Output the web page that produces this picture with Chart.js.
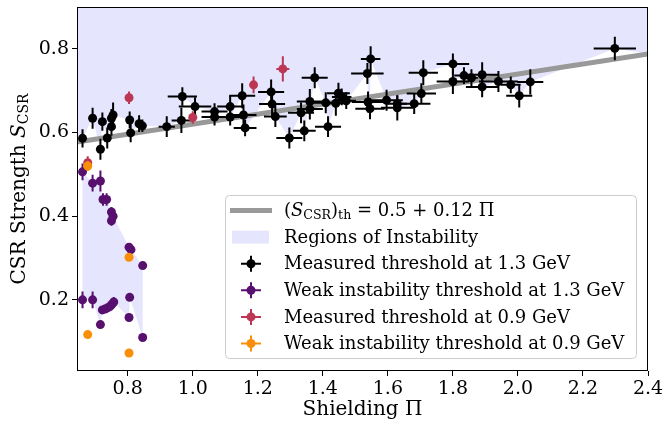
<!DOCTYPE html>
<html>
<head>
<meta charset="utf-8">
<script src="https://cdn.jsdelivr.net/npm/chart.js@4.4.0/dist/chart.umd.min.js"></script>
<style>
  html, body { margin: 0; padding: 0; background: #fff; }
  #wrap { width: 667px; height: 422px; }
</style>
</head>
<body>
<div id="wrap"><canvas id="csrChart" width="667" height="422"></canvas></div>
<script>
// measured threshold at 1.3 GeV
const meas13X = [0.661, 0.692, 0.716, 0.722, 0.737, 0.750, 0.755, 0.750, 0.806, 0.809, 0.835, 0.845,
  0.920, 0.965, 0.968, 1.007, 1.067, 1.067, 1.115, 1.115, 1.152, 1.156, 1.161, 1.241, 1.244, 1.254,
  1.297, 1.333, 1.343, 1.360, 1.360, 1.375, 1.409, 1.416, 1.440, 1.448, 1.458, 1.472, 1.537, 1.547,
  1.539, 1.545, 1.596, 1.629, 1.629, 1.681, 1.703, 1.709, 1.800, 1.800, 1.834, 1.857, 1.890, 1.890,
  1.940, 1.978, 2.004, 2.038, 2.298];
const meas13Y = [0.586, 0.634, 0.560, 0.626, 0.587, 0.634, 0.642, 0.614, 0.630, 0.599, 0.621, 0.616,
  0.614, 0.629, 0.686, 0.662, 0.650, 0.637, 0.662, 0.637, 0.688, 0.642, 0.611, 0.697, 0.668, 0.638,
  0.587, 0.647, 0.604, 0.674, 0.656, 0.731, 0.671, 0.614, 0.670, 0.694, 0.685, 0.676, 0.741, 0.776,
  0.673, 0.657, 0.677, 0.669, 0.659, 0.669, 0.693, 0.743, 0.764, 0.722, 0.736, 0.731, 0.738, 0.709,
  0.722, 0.714, 0.688, 0.721, 0.801];
const meas13XErr = [0.005, 0.005, 0.005, 0.005, 0.005, 0.005, 0.005, 0.005, 0.005, 0.005, 0.005, 0.005,
  0.025, 0.030, 0.045, 0.050, 0.040, 0.040, 0.040, 0.040, 0.040, 0.040, 0.035, 0.040, 0.040, 0.035,
  0.040, 0.040, 0.035, 0.040, 0.040, 0.040, 0.040, 0.040, 0.040, 0.035, 0.030, 0.030, 0.050, 0.030,
  0.050, 0.045, 0.050, 0.030, 0.050, 0.050, 0.045, 0.045, 0.050, 0.050, 0.030, 0.020, 0.050, 0.050,
  0.060, 0.030, 0.040, 0.040, 0.065];
const meas13YErr = [0.022, 0.025, 0.025, 0.022, 0.025, 0.022, 0.030, 0.022, 0.020, 0.022, 0.020, 0.015,
  0.025, 0.030, 0.022, 0.022, 0.020, 0.020, 0.025, 0.020, 0.030, 0.025, 0.020, 0.030, 0.030, 0.025,
  0.025, 0.025, 0.025, 0.030, 0.025, 0.025, 0.025, 0.025, 0.030, 0.025, 0.020, 0.020, 0.025, 0.030,
  0.025, 0.025, 0.025, 0.020, 0.030, 0.025, 0.025, 0.030, 0.025, 0.030, 0.020, 0.020, 0.030, 0.025,
  0.025, 0.020, 0.028, 0.030, 0.028];

// weak instability threshold at 1.3 GeV
const weak13X = [0.661, 0.692, 0.716, 0.724, 0.735, 0.750, 0.750, 0.755, 0.804, 0.810, 0.846,
  0.661, 0.692, 0.716, 0.722, 0.730, 0.738, 0.745, 0.751, 0.757, 0.804, 0.806, 0.846];
const weak13Y = [0.506, 0.479, 0.484, 0.440, 0.440, 0.410, 0.389, 0.400, 0.326, 0.320, 0.282,
  0.200, 0.200, 0.141, 0.176, 0.178, 0.181, 0.184, 0.189, 0.195, 0.158, 0.206, 0.110];
const weak13XErr = [0.004, 0.004, 0.004, 0.004, 0.004, 0.004, 0.004, 0.004, 0.003, 0.003, 0.003,
  0.004, 0.004, 0.003, 0.003, 0.003, 0.003, 0.003, 0.003, 0.003, 0.003, 0.003, 0.003];
const weak13YErr = [0.020, 0.020, 0.025, 0.015, 0.015, 0.012, 0.012, 0.010, 0.008, 0.008, 0.005,
  0.020, 0.020, 0.005, 0.005, 0.005, 0.005, 0.005, 0.005, 0.012, 0.005, 0.008, 0.005];

// measured threshold at 0.9 GeV
const meas09X = [0.677, 0.804, 1.000, 1.187, 1.277];
const meas09Y = [0.528, 0.683, 0.636, 0.714, 0.752];
const meas09XErr = [0.004, 0.004, 0.008, 0.010, 0.020];
const meas09YErr = [0.015, 0.015, 0.015, 0.020, 0.030];

// weak instability threshold at 0.9 GeV
const weak09X = [0.677, 0.677, 0.804, 0.804];
const weak09Y = [0.520, 0.117, 0.302, 0.073];
const weak09XErr = [0.004, 0.004, 0.004, 0.004];
const weak09YErr = [0.012, 0.008, 0.008, 0.006];

// threshold model from the legend
const thIntercept = 0.5;
const thSlope = 0.12;

const xMin = 0.644, xMax = 2.4, yMin = 0.03, yMax = 0.9;
const xTicks = [0.8, 1.0, 1.2, 1.4, 1.6, 1.8, 2.0, 2.2, 2.4];
const yTicks = [0.2, 0.4, 0.6, 0.8];

const serif = "'DejaVu Serif', serif";
const cBlack = '#000000', cPurple = '#57106e', cRed = '#bc3754', cOrange = '#f98e09';
const cFill = '#e5e5fd', cLine = '#999999';

const toPoints = (xs, ys) => xs.map((x, i) => ({ x: x, y: ys[i] }));
const thAt = x => thIntercept + thSlope * x;

// instability above the measured thresholds
const upperEdge = [{ x: xMin, y: thAt(xMin) }]
  .concat(toPoints(meas13X, meas13Y).sort((a, b) => a.x - b.x))
  .concat([{ x: xMax, y: thAt(xMax) }]);

// weak instability band between the two branches
const weakPts = toPoints(weak13X, weak13Y);
const weakHi = weakPts.filter(p => p.y > 0.25).sort((a, b) => a.x - b.x);
const weakLo = weakPts.filter(p => p.y <= 0.25).sort((a, b) => b.x - a.x);
const weakShape = weakHi.concat(weakLo, [weakHi[0]]);

function errSet(label, xs, ys, xe, ye, color, order) {
  return {
    label: label, data: toPoints(xs, ys), xErr: xe, yErr: ye,
    showLine: false, pointRadius: 4.5, pointHoverRadius: 4.5,
    pointBackgroundColor: color, pointBorderColor: color, pointBorderWidth: 0,
    backgroundColor: color, borderColor: color, order: order
  };
}

const errorBars = {
  id: 'errorBars',
  beforeDatasetDraw(chart, args) {
    const ds = chart.data.datasets[args.index];
    if (!ds.xErr) return;
    const sx = chart.scales.x, sy = chart.scales.y;
    const ctx = chart.ctx;
    ctx.save();
    ctx.strokeStyle = ds.backgroundColor;
    ctx.lineWidth = 2;
    ds.data.forEach((p, i) => {
      const px = sx.getPixelForValue(p.x), py = sy.getPixelForValue(p.y);
      const dx = sx.getPixelForValue(p.x + ds.xErr[i]) - px;
      const dy = py - sy.getPixelForValue(p.y + ds.yErr[i]);
      ctx.beginPath();
      ctx.moveTo(px - dx, py); ctx.lineTo(px + dx, py);
      ctx.moveTo(px, py - dy); ctx.lineTo(px, py + dy);
      ctx.stroke();
    });
    ctx.restore();
  }
};

function drawRich(ctx, parts, x, y, size) {
  parts.forEach(([t, kind]) => {
    let s = size, dy = 0, style = '';
    if (kind === 'i') style = 'italic ';
    if (kind === 'sub') { s = size * 0.7; dy = size * 0.22; }
    ctx.font = style + s + 'px ' + serif;
    ctx.fillText(t, x, y + dy);
    x += ctx.measureText(t).width;
  });
  return x;
}

function richWidth(ctx, parts, size) {
  let w = 0;
  parts.forEach(([t, kind]) => {
    let s = size, style = '';
    if (kind === 'i') style = 'italic ';
    if (kind === 'sub') s = size * 0.7;
    ctx.font = style + s + 'px ' + serif;
    w += ctx.measureText(t).width;
  });
  return w;
}

const yTitle = [['CSR Strength ', ''], ['S', 'i'], ['CSR', 'sub']];
const legendRows = [
  { kind: 'line', text: [['(', ''], ['S', 'i'], ['CSR', 'sub'], [')', ''], ['th', 'sub'], [' = 0.5 + 0.12 \u03A0', '']] },
  { kind: 'patch', text: [['Regions of Instability', '']] },
  { kind: 'err', color: cBlack, text: [['Measured threshold at 1.3 GeV', '']] },
  { kind: 'err', color: cPurple, text: [['Weak instability threshold at 1.3 GeV', '']] },
  { kind: 'err', color: cRed, text: [['Measured threshold at 0.9 GeV', '']] },
  { kind: 'err', color: cOrange, text: [['Weak instability threshold at 0.9 GeV', '']] }
];

const decorations = {
  id: 'decorations',
  afterDatasetsDraw(chart) {
    const ctx = chart.ctx, a = chart.chartArea;
    ctx.save();
    ctx.strokeStyle = '#000';
    ctx.lineWidth = 1;
    ctx.strokeRect(a.left + 0.5, a.top + 0.5, a.right - a.left - 1, a.bottom - a.top - 1);
    ctx.restore();
  },
  afterDraw(chart) {
    const ctx = chart.ctx, a = chart.chartArea;
    ctx.save();
    // y axis title
    ctx.fillStyle = '#000';
    ctx.textBaseline = 'middle';
    ctx.translate(20, (a.top + a.bottom) / 2);
    ctx.rotate(-Math.PI / 2);
    drawRich(ctx, yTitle, -richWidth(ctx, yTitle, 20) / 2, 0, 20);
    ctx.restore();

    // legend
    ctx.save();
    const bx = 225, by = 195, bw = 411, bh = 163, r = 4;
    ctx.beginPath();
    ctx.roundRect(bx + 0.5, by + 0.5, bw, bh, r);
    ctx.fillStyle = 'rgba(255,255,255,0.8)';
    ctx.fill();
    ctx.strokeStyle = '#cccccc';
    ctx.lineWidth = 1;
    ctx.stroke();
    ctx.textBaseline = 'middle';
    legendRows.forEach((row, i) => {
      const cy = 210.5 + i * 26.6;
      if (row.kind === 'line') {
        ctx.strokeStyle = cLine; ctx.lineWidth = 5;
        ctx.beginPath(); ctx.moveTo(230, cy); ctx.lineTo(272, cy); ctx.stroke();
      } else if (row.kind === 'patch') {
        ctx.fillStyle = cFill;
        ctx.fillRect(232, cy - 6.5, 37, 13);
      } else {
        ctx.strokeStyle = row.color; ctx.fillStyle = row.color; ctx.lineWidth = 2;
        ctx.beginPath();
        ctx.moveTo(241, cy); ctx.lineTo(261, cy);
        ctx.moveTo(251, cy - 8); ctx.lineTo(251, cy + 8);
        ctx.stroke();
        ctx.beginPath(); ctx.arc(251, cy, 4.5, 0, Math.PI * 2); ctx.fill();
      }
      ctx.fillStyle = '#000';
      drawRich(ctx, row.text, 284, cy + 1, 18);
    });
    ctx.restore();
  }
};

new Chart(document.getElementById('csrChart'), {
  type: 'line',
  data: {
    datasets: [
      { label: 'Regions of Instability', data: upperEdge, fill: 'end', backgroundColor: cFill,
        borderColor: 'rgba(0,0,0,0)', borderWidth: 0, pointRadius: 0, tension: 0, order: 20 },
      { label: 'weak band', data: weakShape, fill: 'shape', backgroundColor: cFill,
        borderColor: 'rgba(0,0,0,0)', borderWidth: 0, pointRadius: 0, tension: 0, order: 19 },
      { label: 'threshold', data: [{ x: xMin, y: thAt(xMin) }, { x: xMax, y: thAt(xMax) }],
        borderColor: cLine, borderWidth: 5, pointRadius: 0, fill: false, order: 10 },
      errSet('Measured threshold at 1.3 GeV', meas13X, meas13Y, meas13XErr, meas13YErr, cBlack, 4),
      errSet('Weak instability threshold at 1.3 GeV', weak13X, weak13Y, weak13XErr, weak13YErr, cPurple, 3),
      errSet('Measured threshold at 0.9 GeV', meas09X, meas09Y, meas09XErr, meas09YErr, cRed, 2),
      errSet('Weak instability threshold at 0.9 GeV', weak09X, weak09Y, weak09XErr, weak09YErr, cOrange, 1)
    ]
  },
  options: {
    responsive: false,
    animation: false,
    devicePixelRatio: 1,
    layout: { padding: { top: 7, right: 19, left: 0, bottom: 0 } },
    plugins: { legend: { display: false }, tooltip: { enabled: false } },
    scales: {
      x: {
        type: 'linear', min: xMin, max: xMax,
        afterBuildTicks: s => { s.ticks = xTicks.map(v => ({ value: v })); },
        afterFit: s => { s.height = 51; s.paddingLeft = 0; s.paddingRight = 0; },
        ticks: { color: '#000', font: { family: serif, size: 19 }, padding: 2,
          maxRotation: 0, autoSkip: false, callback: v => v.toFixed(1) },
        grid: { drawOnChartArea: false, drawTicks: true, tickLength: 5, tickColor: '#000' },
        border: { display: false },
        title: { display: true, text: 'Shielding \u03A0', color: '#000',
          font: { family: serif, size: 20 }, padding: { top: 0, bottom: 0 } }
      },
      y: {
        type: 'linear', min: yMin, max: yMax,
        afterBuildTicks: s => { s.ticks = yTicks.map(v => ({ value: v })); },
        afterFit: s => { s.width = 77; s.paddingTop = 0; s.paddingBottom = 0; },
        ticks: { color: '#000', font: { family: serif, size: 19 }, padding: 3,
          autoSkip: false, callback: v => v.toFixed(1) },
        grid: { drawOnChartArea: false, drawTicks: true, tickLength: 5, tickColor: '#000' },
        border: { display: false }
      }
    }
  },
  plugins: [errorBars, decorations]
});
</script>
</body>
</html>
